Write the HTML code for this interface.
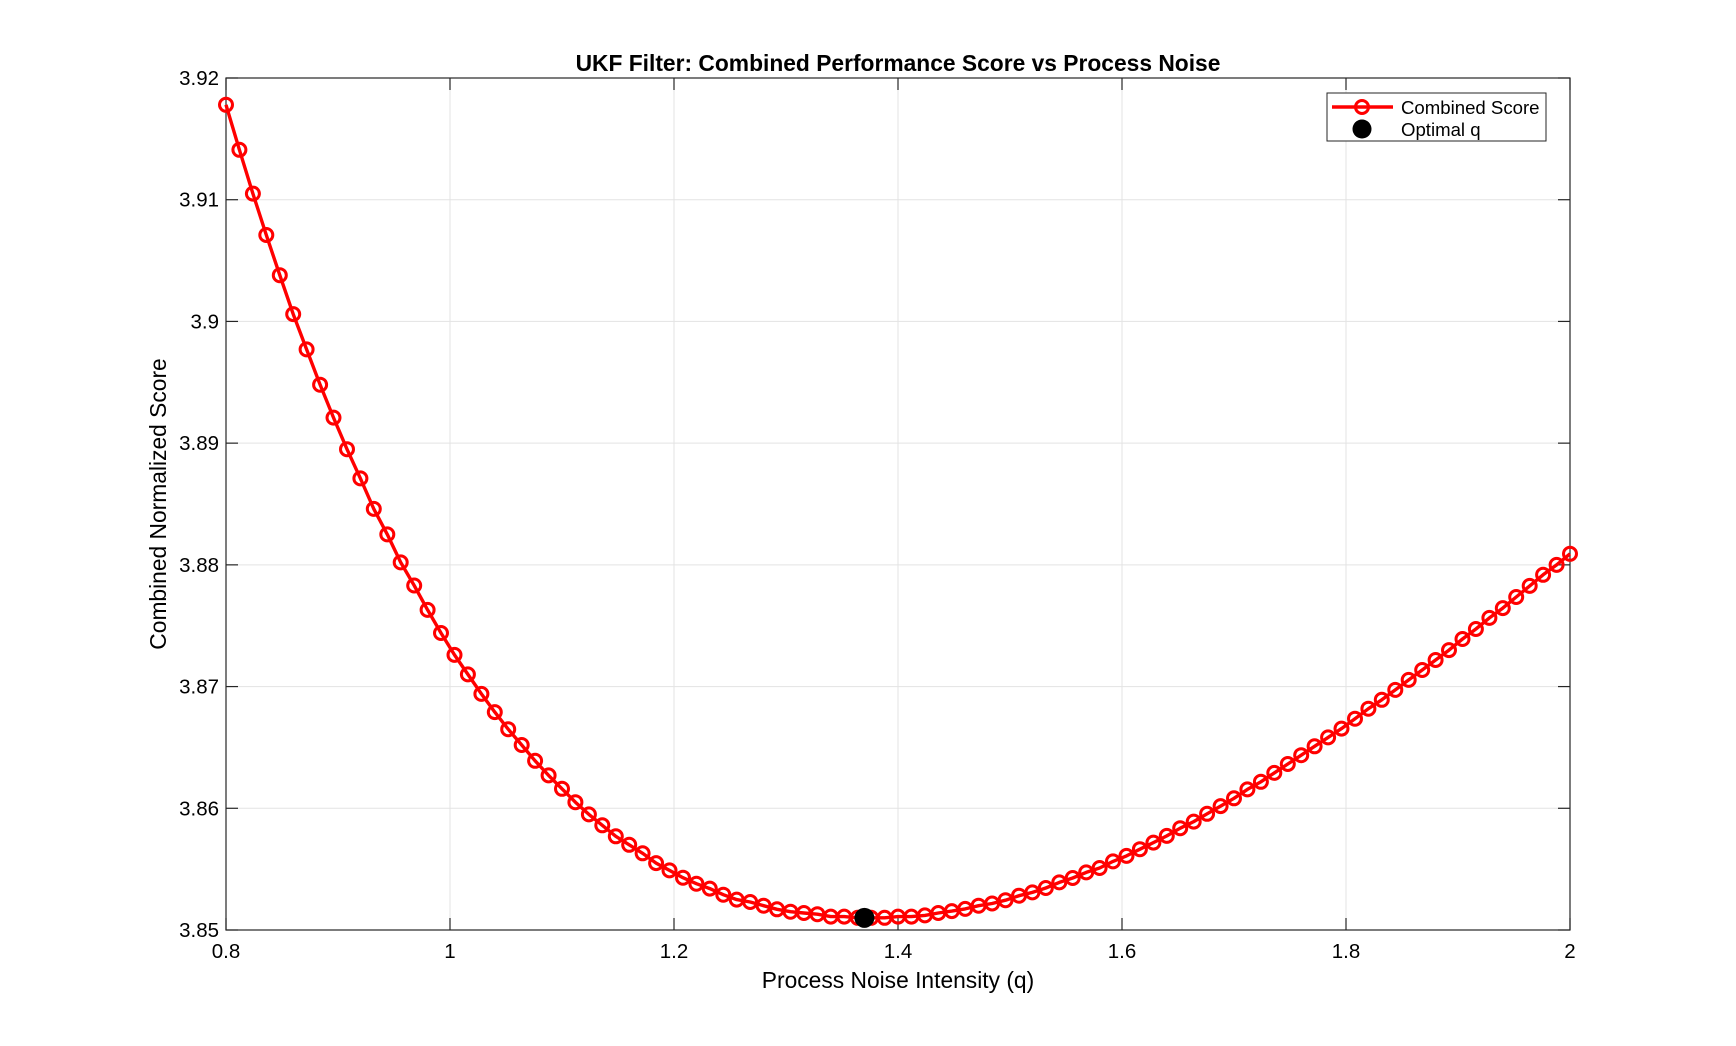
<!DOCTYPE html>
<html><head><meta charset="utf-8"><style>
html,body{margin:0;padding:0;background:#fff;}
svg{display:block;font-family:"Liberation Sans",Arial,sans-serif;}
</style></head><body>
<svg id="chart" width="1736" height="1046" viewBox="0 0 1736 1046" xmlns="http://www.w3.org/2000/svg">
<rect x="0" y="0" width="1736" height="1046" fill="#fff"/>
<g id="grid"></g>
<g id="ticks"></g>
<rect x="226" y="78" width="1344" height="852" fill="none" stroke="#262626" stroke-width="1.2"/>
<g id="series"></g>
<text x="898" y="71" text-anchor="middle" font-size="22.8" font-weight="bold" fill="#000">UKF Filter: Combined Performance Score vs Process Noise</text>
<text x="898" y="988" text-anchor="middle" font-size="22.8" fill="#000">Process Noise Intensity (q)</text>
<text transform="translate(166,504) rotate(-90)" text-anchor="middle" font-size="22.8" fill="#000">Combined Normalized Score</text>
<g>
<rect x="1327" y="93" width="219" height="48" fill="#fff" stroke="#262626" stroke-width="1"/>
<line x1="1332" y1="107" x2="1393" y2="107" stroke="#ff0000" stroke-width="3.4"/>
<circle cx="1362" cy="107" r="6.5" fill="none" stroke="#ff0000" stroke-width="3"/>
<text x="1401" y="114" font-size="18.6" fill="#000">Combined Score</text>
<circle cx="1362" cy="129" r="9.5" fill="#000"/>
<text x="1401" y="136" font-size="18.6" fill="#000">Optimal q</text>
</g>
</svg>
<script>
const xStart = 0.8;
const xStep = 0.012;
const scores = [3.9178,3.9141,3.9105,3.9071,3.9038,3.9006,3.8977,3.8948,3.8921,3.8895,
3.8871,3.8846,3.8825,3.8802,3.8783,3.8763,3.8744,3.8726,3.8710,3.8694,
3.8679,3.8665,3.8652,3.8639,3.8627,3.8616,3.8605,3.8595,3.8586,3.8577,
3.8570,3.8563,3.8555,3.8549,3.8543,3.8538,3.8534,3.8529,3.8525,3.8523,
3.8520,3.8517,3.8515,3.8514,3.8513,3.8511,3.8511,3.8510,3.8510,3.8510,
3.8511,3.8511,3.8512,3.8514,3.85155,3.85173,3.8520,3.85218,3.85245,3.85282,
3.85309,3.85345,3.85391,3.85427,3.85473,3.85509,3.85564,3.85609,3.85664,3.85718,
3.85773,3.85836,3.85891,3.85955,3.86018,3.86082,3.86155,3.86218,3.86291,3.86364,
3.86436,3.86509,3.86582,3.86655,3.86736,3.86818,3.86891,3.86973,3.87055,3.87136,
3.87218,3.87300,3.87391,3.87473,3.87564,3.87645,3.87736,3.87827,3.87918,3.88000,3.88091];
const optimalQ = [1.37];
const optimalScore = [3.8510];
const xTicks = [0.8,1,1.2,1.4,1.6,1.8,2];
const xTickLabels = ["0.8","1","1.2","1.4","1.6","1.8","2"];
const yTicks = [3.85,3.86,3.87,3.88,3.89,3.9,3.91,3.92];
const yTickLabels = ["3.85","3.86","3.87","3.88","3.89","3.9","3.91","3.92"];

const NS = "http://www.w3.org/2000/svg";
const L=226,R=1570,T=78,B=930;
function xs(v){return L+(v-0.8)/(2-0.8)*(R-L);}
function ys(v){return B-(v-3.85)/(3.92-3.85)*(B-T);}
function mk(tag,attrs,parent){const e=document.createElementNS(NS,tag);for(const k in attrs)e.setAttribute(k,attrs[k]);parent.appendChild(e);return e;}
const grid=document.getElementById('grid'),ticks=document.getElementById('ticks'),series=document.getElementById('series');
xTicks.forEach((t,i)=>{
  const x=xs(t);
  const g=mk('line',{x1:x,y1:T,x2:x,y2:B,stroke:'#e3e3e3','stroke-width':1},grid);
  
  
  const t1=mk('line',{x1:x,y1:B,x2:x,y2:B-12,stroke:'#262626','stroke-width':1.2},ticks);
  
  
  const t2=mk('line',{x1:x,y1:T,x2:x,y2:T+12,stroke:'#262626','stroke-width':1.2},ticks);
  
  
  const lb=mk('text',{x:x,y:B+28,'text-anchor':'middle','font-size':20.5,fill:'#000'},ticks);
  lb.textContent=xTickLabels[i];
  
  
});
yTicks.forEach((t,i)=>{
  const y=ys(t);
  const g=mk('line',{x1:L,y1:y,x2:R,y2:y,stroke:'#e3e3e3','stroke-width':1},grid);
  
  
  const t1=mk('line',{x1:L,y1:y,x2:L+12,y2:y,stroke:'#262626','stroke-width':1.2},ticks);
  
  
  const t2=mk('line',{x1:R,y1:y,x2:R-12,y2:y,stroke:'#262626','stroke-width':1.2},ticks);
  
  
  const lb=mk('text',{x:L-7,y:y+7,'text-anchor':'end','font-size':20.5,fill:'#000'},ticks);
  lb.textContent=yTickLabels[i];
  
  
});
const pts=scores.map((v,i)=>[xs(xStart+i*xStep),ys(v)]);
const line=mk('polyline',{points:pts.map(p=>p[0].toFixed(1)+','+p[1].toFixed(1)).join(' '),fill:'none',stroke:'#ff0000','stroke-width':3.4,'stroke-linejoin':'round'},series);


pts.forEach(p=>{
  const c=mk('circle',{cx:p[0].toFixed(1),cy:p[1].toFixed(1),r:6.5,fill:'none',stroke:'#ff0000','stroke-width':3},series);
  
  
});
optimalQ.forEach((q,i)=>{
  const c=mk('circle',{cx:xs(q),cy:ys(optimalScore[i]),r:10,fill:'#000'},series);
  
  
});
</script>
</body></html>
